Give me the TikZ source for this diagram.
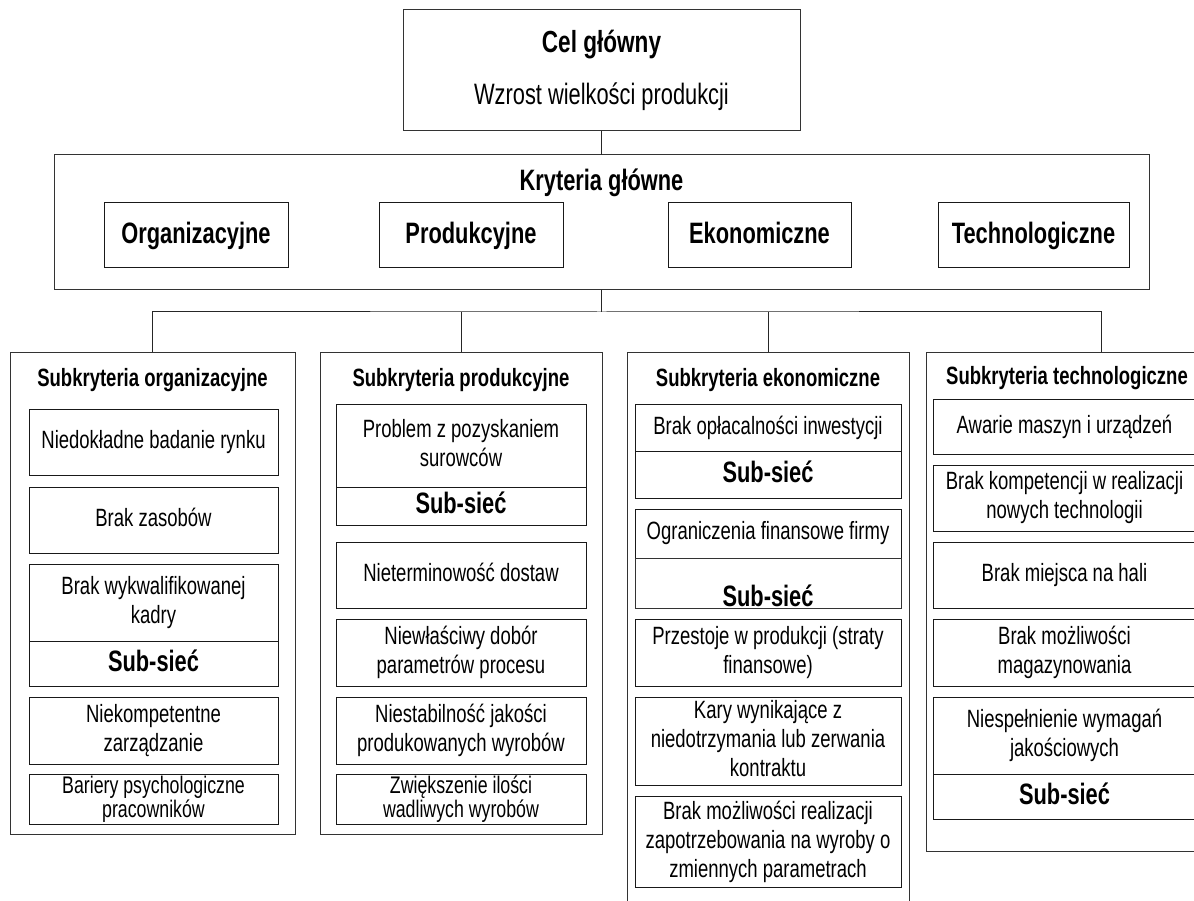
\documentclass[tikz,border=0pt]{standalone}
\usepackage{fontspec}
\setmainfont[FakeStretch=0.74]{Liberation Sans}
\newcommand\rbox[7]{\node[#6, minimum width={#4-#2}, minimum height={#5-#3}, anchor=north west] (#1) at (#2,#3) {#7};}
\begin{document}
\begin{tikzpicture}[x=1pt,y=-1pt, line width=1pt,
  frame/.style={draw=black!80, inner sep=0pt, outer sep=0pt},
  item/.style={draw=black!90, inner sep=0pt, outer sep=0pt, align=center, font=\fontsize{25}{29}\selectfont,
    execute at begin node={\vphantom{Ag}}, execute at end node={\vphantom{Ag}}},
  tight/.style={draw=black!90, inner sep=0pt, outer sep=0pt, align=center, font=\fontsize{24}{22}\selectfont},
  subnet/.style={item, font=\fontsize{29.5}{32}\selectfont\bfseries},
  crit/.style={item, font=\fontsize{29.5}{32}\selectfont\bfseries},
  ttl/.style={inner sep=0pt, font=\fontsize{25}{29}\selectfont\bfseries},
  head/.style={inner sep=0pt, font=\fontsize{30.5}{32}\selectfont\bfseries},
  plain/.style={inner sep=0pt, font=\fontsize{29.5}{32}\selectfont},
  conn/.style={draw=black!85}]
\useasboundingbox (0,0) rectangle (1194,901);
\clip (0,0) rectangle (1194,901);
\fill[white] (0,0) rectangle (1194,901);

% goal
\rbox{goal}{403}{10}{800}{131}{frame}{}
\node[head] (goalt) at (601.5,45) {Cel główny};
\node[plain] (goals) at (601.5,97) {Wzrost wielkości produkcji};

% main criteria
\rbox{kryt}{54}{155}{1149}{290}{frame}{}
\node[head, font=\fontsize{29.5}{32}\selectfont\bfseries] (kryttl) at (601.5,183) {Kryteria główne};
\rbox{org}{104}{203}{288}{268}{crit}{Organizacyjne}
\rbox{prod}{379}{203}{563}{268}{crit}{Produkcyjne}
\rbox{eko}{668}{203}{851}{268}{crit}{Ekonomiczne}
\rbox{tech}{938}{203}{1129}{268}{crit}{Technologiczne}

% sub-criteria columns
\rbox{col1}{10}{352}{295}{834}{frame}{}
\rbox{col2}{320}{352}{602}{834}{frame}{}
\rbox{col3}{627}{352}{909}{930}{frame}{}
\rbox{col4}{926}{352}{1276}{851}{frame}{}

\node[ttl] (t1) at (152.5,380) {Subkryteria organizacyjne};
\node[ttl] (t2) at (461,380) {Subkryteria produkcyjne};
\node[ttl] (t3) at (768,380) {Subkryteria ekonomiczne};
\node[ttl] (t4) at (1067,378) {Subkryteria technologiczne};

% connectors
\coordinate (bus) at (601.5,312);
\draw[conn] (goal.south) -- (kryt.north);
\draw[conn] (kryt.south) -- (bus);
\draw[conn] (col1.north) |- (bus) -| (col4.north);
\draw[conn] (col2.north) -- (col2.north |- bus);
\draw[conn] (col3.north) -- (col3.north |- bus);

% column 1
\rbox{c1a}{29}{409}{278}{475}{item}{Niedokładne badanie rynku}
\rbox{c1b}{29}{487}{278}{553}{item}{Brak zasobów}
\rbox{c1c}{29}{564}{278}{641}{item}{Brak wykwalifikowanej\\kadry}
\rbox{c1cs}{29}{641}{278}{686}{subnet}{Sub-sieć}
\rbox{c1d}{29}{697}{278}{764}{item}{Niekompetentne\\zarządzanie}
\rbox{c1e}{29}{774}{278}{824}{tight}{Bariery psychologiczne\\pracowników}

% column 2
\rbox{c2a}{336}{404}{586}{487}{item}{Problem z pozyskaniem\\surowców}
\rbox{c2as}{336}{487}{586}{525}{subnet}{Sub-sieć}
\rbox{c2b}{336}{542}{586}{608}{item}{Nieterminowość dostaw}
\rbox{c2c}{336}{619}{586}{686}{item}{Niewłaściwy dobór\\parametrów procesu}
\rbox{c2d}{336}{697}{586}{764}{item}{Niestabilność jakości\\produkowanych wyrobów}
\rbox{c2e}{336}{774}{586}{824}{tight}{Zwiększenie ilości\\wadliwych wyrobów}

% column 3
\rbox{c3a}{635}{404}{901}{451}{item}{Brak opłacalności inwestycji}
\rbox{c3as}{635}{451}{901}{498}{subnet}{Sub-sieć}
\rbox{c3b}{635}{509}{901}{558}{item}{Ograniczenia finansowe firmy}
\rbox{c3bs}{635}{558}{901}{608}{frame}{}
\node[inner sep=0pt, font=\fontsize{29.5}{32}\selectfont\bfseries] (c3bst) at (768,596) {Sub-sieć};
\rbox{c3c}{635}{619}{901}{686}{item}{Przestoje w produkcji (straty\\finansowe)}
\rbox{c3d}{635}{697}{901}{785}{item}{Kary wynikające z\\niedotrzymania lub zerwania\\kontraktu}
\rbox{c3e}{635}{796}{901}{887}{item}{Brak możliwości realizacji\\zapotrzebowania na wyroby o\\zmiennych parametrach}

% column 4
\rbox{c4a}{933}{399}{1196}{454}{item}{Awarie maszyn i urządzeń}
\rbox{c4b}{933}{465}{1196}{531}{item}{Brak kompetencji w realizacji\\nowych technologii}
\rbox{c4c}{933}{542}{1196}{608}{item}{Brak miejsca na hali}
\rbox{c4d}{933}{619}{1196}{686}{item}{Brak możliwości\\magazynowania}
\rbox{c4e}{933}{697}{1196}{774}{item}{Niespełnienie wymagań\\jakościowych}
\rbox{c4es}{933}{774}{1196}{819}{subnet}{Sub-sieć}
\end{tikzpicture}
\end{document}
